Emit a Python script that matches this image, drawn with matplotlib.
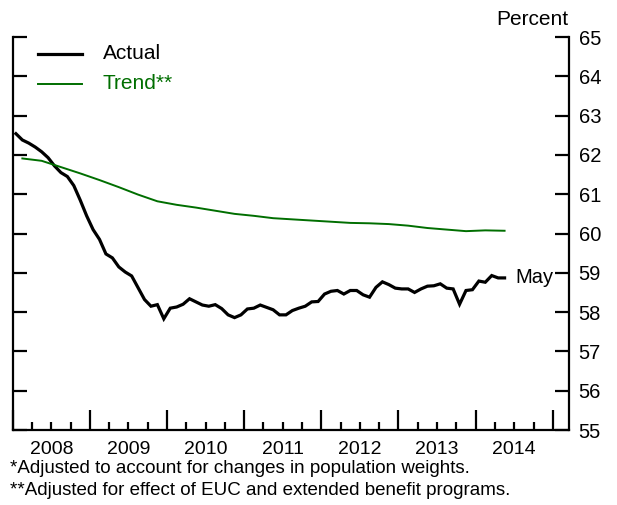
import numpy as np
import matplotlib
matplotlib.use('Agg')
import matplotlib.pyplot as plt

plt.rcParams['font.family'] = ['Liberation Sans', 'DejaVu Sans']

# Monthly data, index 0 = Jan 2008
actual = [62.54, 62.38, 62.30, 62.20, 62.08, 61.93, 61.72, 61.55, 61.45, 61.22,
          60.85, 60.45, 60.10, 59.85, 59.48, 59.38, 59.15, 59.02, 58.92, 58.62,
          58.32, 58.15, 58.19, 57.83, 58.10, 58.13, 58.20, 58.34, 58.26, 58.18,
          58.15, 58.19, 58.09, 57.93, 57.86, 57.93, 58.08, 58.10, 58.18, 58.12,
          58.06, 57.93, 57.93, 58.04, 58.10, 58.15, 58.26, 58.27, 58.46, 58.53,
          58.55, 58.46, 58.55, 58.55, 58.44, 58.38, 58.63, 58.77, 58.70, 58.61,
          58.59, 58.59, 58.50, 58.59, 58.66, 58.67, 58.72, 58.61, 58.59, 58.20,
          58.55, 58.57, 58.79, 58.76, 58.93, 58.87, 58.87]
# Quarterly trend, plotted at the middle month of each quarter (Q1 2008 .. Q2 2014)
trend = [61.91, 61.85, 61.69, 61.53, 61.36, 61.18, 60.99, 60.82, 60.73, 60.66,
         60.58, 60.50, 60.45, 60.39, 60.36, 60.33, 60.30, 60.27, 60.26, 60.24,
         60.20, 60.14, 60.10, 60.06, 60.08, 60.07]
years = ['2008', '2009', '2010', '2011', '2012', '2013', '2014']
yticks = list(range(55, 66))

green = '#006e00'

months = np.arange(len(actual))
trend_months = np.arange(len(trend)) * 3 + 1

fig = plt.figure(figsize=(6.17, 5.05), dpi=100)
ax = fig.add_axes([0.0206, 0.1485, 0.9014, 0.7782])

ax.plot(months, actual, color='black', lw=2.3, solid_joinstyle='miter')
ax.plot(trend_months, trend, color=green, lw=1.4)

ax.set_xlim(-0.5, 86)
ax.set_ylim(55, 65)

ax.spines['top'].set_visible(False)
for s in ['left', 'right', 'bottom']:
    ax.spines[s].set_linewidth(1.6)

# x ticks: years (long) and quarters (short), labels centred in each year
ax.set_xticks(np.arange(len(years) + 1) * 12 - 0.5)
ax.set_xticks(np.arange(0, 28) * 3 - 0.5, minor=True)
ax.tick_params(axis='x', which='major', direction='in', length=14.5, width=1.6, labelbottom=False)
ax.tick_params(axis='x', which='minor', direction='in', length=5.8, width=1.6)
for i, yr in enumerate(years):
    ax.annotate(yr, xy=(i * 12 + 5.5, 0), xycoords=('data', 'axes fraction'),
                xytext=(0, -8), textcoords='offset points', ha='center', va='top', fontsize=14)

# y ticks on both sides, labels on right
ax.set_yticks(yticks)
ax.tick_params(axis='y', which='both', direction='in', length=10, width=1.6,
               left=True, right=True, labelleft=False, labelright=True,
               labelsize=14.5, pad=7)

ax.text(1.0, 1.02, 'Percent', transform=ax.transAxes, ha='right', va='bottom', fontsize=15)

# label at end of actual series
ax.annotate('May', xy=(months[-1], actual[-1]), xytext=(8, 0), textcoords='offset points',
            ha='left', va='center', fontsize=14.5)

# legend
ax.plot([0.0455, 0.1246], [0.958, 0.958], transform=ax.transAxes, color='black', lw=2.3)
ax.text(0.162, 0.958, 'Actual', transform=ax.transAxes, va='center', fontsize=15)
ax.plot([0.0455, 0.1246], [0.881, 0.881], transform=ax.transAxes, color=green, lw=1.4)
ax.text(0.162, 0.881, 'Trend**', transform=ax.transAxes, va='center', fontsize=15, color=green)

fig.text(0.016, 0.073, '*Adjusted to account for changes in population weights.', fontsize=13.5, va='center')
fig.text(0.016, 0.028, '**Adjusted for effect of EUC and extended benefit programs.', fontsize=13.5, va='center')

fig.savefig('out.png', dpi=100)
